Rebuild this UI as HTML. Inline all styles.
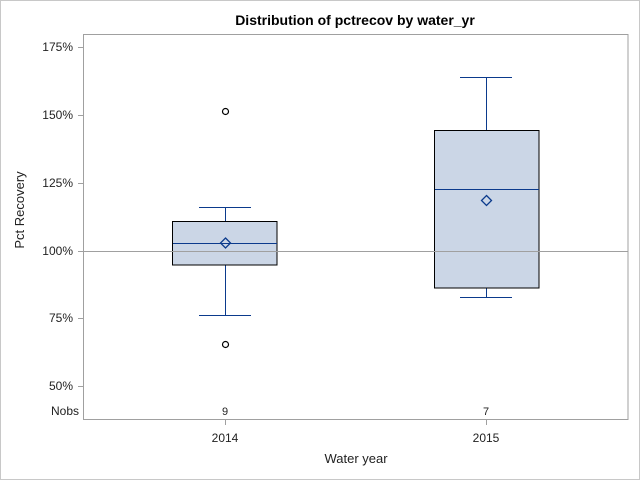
<!DOCTYPE html>
<html><head><style>body{margin:0;background:#fff}</style></head><body>
<svg width="640" height="480" xmlns="http://www.w3.org/2000/svg" font-family="Liberation Sans, Arial, sans-serif">
<rect x="0.5" y="0.5" width="639" height="479" fill="#fff" stroke="#c8c8c8"/>
<text x="355" y="25" text-anchor="middle" font-size="14" font-weight="bold">Distribution of pctrecov by water_yr</text>
<rect x="83.5" y="34.5" width="544.5" height="385" fill="#fff" stroke="#a0a0a0"/>
<g font-size="12" text-anchor="end" fill="#222">
<text x="73" y="51">175%</text><text x="73" y="119">150%</text><text x="73" y="187">125%</text>
<text x="73" y="255">100%</text><text x="73" y="322">75%</text><text x="73" y="390">50%</text>
<text x="79" y="415">Nobs</text>
</g>
<g stroke="#a0a0a0"><line x1="78" y1="47.5" x2="83" y2="47.5"/><line x1="78" y1="115.5" x2="83" y2="115.5"/><line x1="78" y1="183.5" x2="83" y2="183.5"/><line x1="78" y1="251.5" x2="83" y2="251.5"/><line x1="78" y1="318.5" x2="83" y2="318.5"/><line x1="78" y1="386.5" x2="83" y2="386.5"/>
<line x1="225.5" y1="420" x2="225.5" y2="425"/><line x1="486.5" y1="420" x2="486.5" y2="425"/></g>
<text x="24" y="210" font-size="13" text-anchor="middle" transform="rotate(-90 24 210)" fill="#222">Pct Recovery</text>
<!-- 2014 -->
<g stroke="#0b3a8c" fill="none">
<line x1="225.5" y1="207.5" x2="225.5" y2="222"/><line x1="199" y1="207.5" x2="251" y2="207.5"/>
<line x1="225.5" y1="265" x2="225.5" y2="315.5"/><line x1="199" y1="315.5" x2="251" y2="315.5"/>
</g>
<rect x="172.5" y="221.5" width="104.5" height="43.5" fill="#cbd6e6" stroke="#000"/>
<line x1="173" y1="243.5" x2="277" y2="243.5" stroke="#0b3a8c"/>
<!-- 2015 -->
<g stroke="#0b3a8c" fill="none">
<line x1="486.5" y1="77.5" x2="486.5" y2="130"/><line x1="460" y1="77.5" x2="512" y2="77.5"/>
<line x1="486.5" y1="288" x2="486.5" y2="297.5"/><line x1="460" y1="297.5" x2="512" y2="297.5"/>
</g>
<rect x="434.5" y="130.5" width="104.5" height="157.5" fill="#cbd6e6" stroke="#000"/>
<line x1="435" y1="189.5" x2="539" y2="189.5" stroke="#0b3a8c"/>
<line x1="84" y1="251.5" x2="628" y2="251.5" stroke="#a0a0a0"/>
<g fill="none" stroke="#0b3a8c" stroke-width="1.3">
<path d="M225.5 238 L230.5 243 L225.5 248 L220.5 243 Z"/>
<path d="M486.5 195.5 L491.5 200.5 L486.5 205.5 L481.5 200.5 Z"/>
</g>
<g fill="none" stroke="#000" stroke-width="1.2"><circle cx="225.5" cy="111.5" r="3"/><circle cx="225.5" cy="344.5" r="3"/></g>
<g font-size="11" text-anchor="middle" fill="#222"><text x="225" y="415">9</text><text x="486" y="415">7</text></g>
<g font-size="12" text-anchor="middle" fill="#222"><text x="225" y="442">2014</text><text x="486" y="442">2015</text></g>
<text x="356" y="463" font-size="13" text-anchor="middle" fill="#222">Water year</text>
</svg>
</body></html>
